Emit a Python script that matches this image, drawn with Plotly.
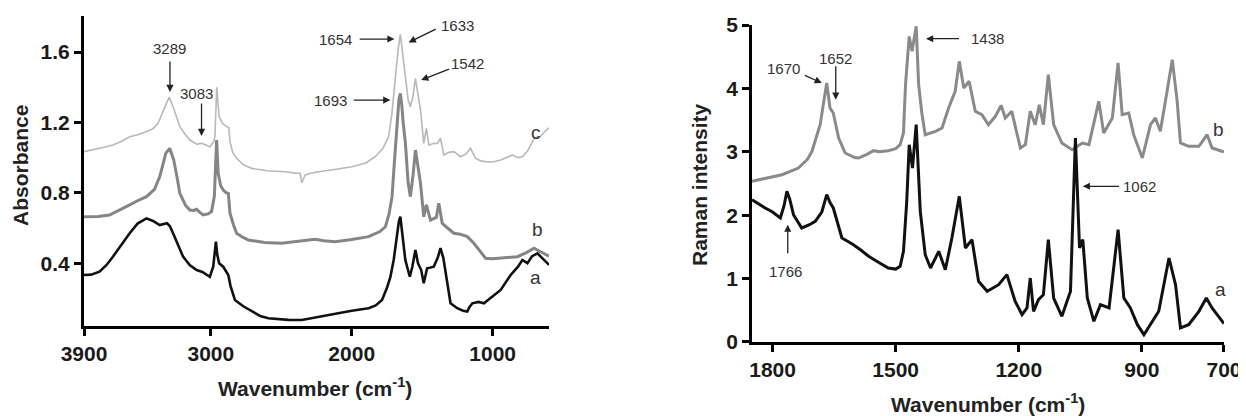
import plotly.graph_objects as go

# ---------------- FTIR (left panel) ----------------
ftir_wn_c = [3900, 3790, 3750, 3695, 3640, 3576, 3520, 3457, 3410, 3375, 3345, 3327, 3296, 3268, 3245, 3220,
             3180, 3149, 3101, 3066, 3030, 3007, 2980, 2971, 2958, 2950, 2941, 2917, 2895, 2872, 2864, 2845,
             2817, 2770, 2710, 2600, 2473, 2400, 2366, 2354, 2331, 2300, 2236, 2100, 1998, 1900, 1833, 1780,
             1738, 1715, 1700, 1685, 1670, 1655, 1640, 1619, 1600, 1584, 1565, 1548, 1530, 1512, 1489, 1470,
             1453, 1420, 1393, 1370, 1346, 1310, 1275, 1228, 1190, 1157, 1121, 1080, 1050, 1000, 943, 900,
             860, 820, 789, 750, 706, 682, 660, 640, 611, 600]
ftir_abs_c = [1.034, 1.05, 1.06, 1.072, 1.09, 1.119, 1.13, 1.147, 1.165, 1.195, 1.25, 1.289, 1.343, 1.289, 1.23, 1.176,
              1.13, 1.10, 1.076, 1.081, 1.07, 1.062, 1.09, 1.119, 1.40, 1.30, 1.232, 1.195, 1.18, 1.17, 1.09, 1.03,
              0.996, 0.96, 0.939, 0.925, 0.92, 0.912, 0.911, 0.857, 0.901, 0.91, 0.92, 0.935, 0.948, 0.97, 1.005, 1.05,
              1.12, 1.25, 1.38, 1.52, 1.62, 1.70, 1.60, 1.46, 1.33, 1.289, 1.35, 1.45, 1.35, 1.27, 1.081, 1.166,
              1.072, 1.08, 1.081, 1.11, 1.015, 1.03, 1.034, 1.005, 1.02, 1.053, 0.996, 0.98, 0.977, 0.975, 0.986, 1.0,
              1.015, 1.0, 1.005, 1.04, 1.11, 1.119, 1.12, 1.14, 1.166, 1.17]

ftir_wn_b = [3900, 3800, 3719, 3650, 3576, 3520, 3457, 3400, 3363, 3340, 3320, 3292, 3263, 3240, 3220, 3180,
             3149, 3120, 3101, 3080, 3054, 3020, 2995, 2975, 2959, 2948, 2930, 2912, 2890, 2876, 2864, 2840,
             2817, 2780, 2734, 2620, 2497, 2380, 2300, 2260, 2200, 2117, 2000, 1880, 1800, 1761, 1735, 1714,
             1695, 1680, 1665, 1655, 1645, 1635, 1619, 1600, 1584, 1565, 1548, 1530, 1512, 1489, 1470, 1441,
             1400, 1382, 1358, 1320, 1275, 1230, 1180, 1133, 1090, 1050, 1000, 943, 880, 824, 760, 706,
             660, 611, 600]
ftir_abs_b = [0.664, 0.665, 0.674, 0.70, 0.731, 0.755, 0.778, 0.82, 0.891, 0.96, 1.024, 1.053, 0.986, 0.89, 0.797, 0.73,
              0.702, 0.70, 0.706, 0.69, 0.674, 0.68, 0.693, 0.78, 1.10, 0.911, 0.84, 0.816, 0.80, 0.797, 0.684, 0.62,
              0.57, 0.55, 0.532, 0.518, 0.513, 0.525, 0.532, 0.536, 0.528, 0.522, 0.535, 0.551, 0.58, 0.607, 0.68, 0.778,
              1.0, 1.2, 1.33, 1.365, 1.30, 1.20, 1.081, 0.86, 0.778, 0.90, 1.043, 0.95, 0.854, 0.664, 0.731, 0.645,
              0.66, 0.74, 0.627, 0.60, 0.57, 0.565, 0.551, 0.513, 0.47, 0.428, 0.425, 0.428, 0.435, 0.437, 0.46, 0.485,
              0.465, 0.447, 0.44]

ftir_wn_a = [3900, 3850, 3790, 3740, 3695, 3640, 3576, 3520, 3457, 3410, 3363, 3311, 3290, 3268, 3230, 3197,
             3150, 3101, 3060, 3007, 2983, 2964, 2955, 2941, 2912, 2895, 2876, 2860, 2841, 2829, 2770, 2710,
             2650, 2592, 2450, 2354, 2300, 2200, 2117, 2000, 1880, 1830, 1785, 1750, 1726, 1702, 1680, 1665,
             1655, 1640, 1620, 1607, 1588, 1570, 1548, 1530, 1507, 1489, 1465, 1440, 1418, 1390, 1370, 1350,
             1334, 1299, 1251, 1210, 1180, 1165, 1144, 1100, 1062, 1000, 943, 872, 820, 789, 753, 720,
             682, 650, 611, 600]
ftir_abs_a = [0.333, 0.335, 0.352, 0.39, 0.437, 0.50, 0.57, 0.625, 0.655, 0.64, 0.617, 0.627, 0.61, 0.57, 0.50, 0.437,
              0.39, 0.361, 0.35, 0.323, 0.38, 0.522, 0.45, 0.40, 0.38, 0.36, 0.333, 0.27, 0.229, 0.191, 0.155, 0.125,
              0.10, 0.087, 0.078, 0.077, 0.085, 0.10, 0.115, 0.13, 0.144, 0.16, 0.191, 0.26, 0.32, 0.42, 0.55, 0.64,
              0.664, 0.55, 0.42, 0.38, 0.323, 0.38, 0.475, 0.40, 0.361, 0.286, 0.371, 0.375, 0.38, 0.43, 0.485, 0.43,
              0.343, 0.172, 0.144, 0.13, 0.125, 0.15, 0.172, 0.18, 0.172, 0.21, 0.248, 0.333, 0.38, 0.418, 0.40, 0.44,
              0.456, 0.43, 0.40, 0.39]

# ---------------- Raman (right panel) ----------------
raman_wn_b = [1850, 1800, 1777, 1737, 1715, 1704, 1690, 1684, 1675, 1668, 1660, 1652, 1639, 1623, 1600, 1591,
              1570, 1554, 1540, 1518, 1500, 1489, 1481, 1476, 1467, 1460, 1450, 1444, 1436, 1428, 1403, 1387,
              1371, 1355, 1345, 1334, 1321, 1306, 1290, 1274, 1257, 1243, 1233, 1217, 1205, 1196, 1184, 1172,
              1160, 1150, 1140, 1128, 1115, 1095, 1070, 1045, 1029, 1005, 993, 972, 958, 948, 932, 920,
              899, 879, 867, 855, 836, 826, 814, 806, 786, 761, 741, 729, 705, 700]
raman_int_b = [2.535, 2.60, 2.639, 2.744, 2.88, 3.008, 3.28, 3.428, 3.80, 4.085, 3.69, 3.612, 3.218, 2.981, 2.91, 2.902,
               2.96, 3.018, 3.00, 3.018, 3.05, 3.112, 3.3, 4.058, 4.82, 4.585, 4.98, 4.058, 3.6, 3.27, 3.323, 3.375,
               3.69, 3.954, 4.427, 4.006, 4.112, 3.639, 3.585, 3.428, 3.56, 3.733, 3.533, 3.639, 3.3, 3.06, 3.112, 3.639,
               3.428, 3.743, 3.428, 4.216, 3.428, 3.139, 3.034, 3.139, 3.112, 3.796, 3.297, 3.533, 4.401, 3.585, 3.612, 3.27,
               2.902, 3.428, 3.533, 3.323, 4.058, 4.453, 3.796, 3.139, 3.087, 3.087, 3.27, 3.06, 3.008, 3.0]

raman_wn_a = [1850, 1835, 1818, 1800, 1781, 1772, 1765, 1758, 1749, 1729, 1710, 1696, 1680, 1668, 1660, 1652,
              1640, 1631, 1615, 1603, 1585, 1566, 1540, 1518, 1500, 1489, 1481, 1473, 1467, 1459, 1450, 1440,
              1428, 1415, 1395, 1379, 1363, 1345, 1330, 1314, 1298, 1277, 1249, 1229, 1209, 1192, 1180, 1172,
              1164, 1152, 1140, 1128, 1115, 1095, 1074, 1062, 1052, 1044, 1033, 1017, 1001, 980, 958, 944,
              928, 911, 895, 875, 859, 834, 818, 806, 786, 761, 743, 729, 705, 700]
raman_int_a = [2.245, 2.18, 2.114, 2.05, 1.956, 2.15, 2.377, 2.25, 2.008, 1.798, 1.85, 1.904, 2.05, 2.324, 2.2, 2.114,
               1.85, 1.64, 1.58, 1.535, 1.45, 1.352, 1.25, 1.167, 1.15, 1.194, 1.43, 2.219, 3.112, 2.744, 3.428, 2.06,
               1.377, 1.167, 1.43, 1.14, 1.64, 2.298, 1.483, 1.614, 0.957, 0.8, 0.904, 1.062, 0.642, 0.431, 0.536, 1.009,
               0.484, 0.667, 0.746, 1.614, 0.694, 0.405, 0.8, 3.218, 1.483, 1.614, 0.694, 0.326, 0.588, 0.536, 1.772, 0.694,
               0.536, 0.273, 0.115, 0.326, 0.484, 1.325, 0.904, 0.221, 0.273, 0.484, 0.694, 0.536, 0.326, 0.29]

ftir_xticks = [3900, 3000, 2000, 1000]
ftir_yticks = [0.4, 0.8, 1.2, 1.6]
ftir_yticklabels = ["0.4", "0.8", "1.2", "1.6"]
raman_xticks = [1800, 1500, 1200, 900, 700]
raman_yticks = [0, 1, 2, 3, 4, 5]

FONT = "Arial, Liberation Sans, sans-serif"

fig = go.Figure()
fig.add_trace(go.Scatter(x=ftir_wn_c, y=ftir_abs_c, mode="lines", line=dict(color="#b8b8b8", width=1.6),
                         xaxis="x", yaxis="y", hoverinfo="skip"))
fig.add_trace(go.Scatter(x=ftir_wn_b, y=ftir_abs_b, mode="lines", line=dict(color="#858585", width=3),
                         xaxis="x", yaxis="y", hoverinfo="skip"))
fig.add_trace(go.Scatter(x=ftir_wn_a, y=ftir_abs_a, mode="lines", line=dict(color="#111111", width=2.6),
                         xaxis="x", yaxis="y", hoverinfo="skip"))
fig.add_trace(go.Scatter(x=raman_wn_b, y=raman_int_b, mode="lines", line=dict(color="#8a8a8a", width=3),
                         xaxis="x2", yaxis="y2", hoverinfo="skip"))
fig.add_trace(go.Scatter(x=raman_wn_a, y=raman_int_a, mode="lines", line=dict(color="#111111", width=3),
                         xaxis="x2", yaxis="y2", hoverinfo="skip"))

axis_common = dict(showline=True, linewidth=3, linecolor="black", ticks="outside", ticklen=7, tickwidth=2.5,
                   tickcolor="black", showgrid=False, zeroline=False, mirror=False, automargin=False,
                   tickfont=dict(family=FONT, size=21, color="#1a1a1a", weight="bold"))

# the page body adds an 8px offset, so the figure is 1238x408
fig.update_layout(
    width=1238, height=408, margin=dict(l=0, r=0, t=0, b=0, pad=0, autoexpand=False),
    paper_bgcolor="white", plot_bgcolor="white", showlegend=False,
    xaxis=dict(domain=[0.0614, 0.4370], range=[3900, 600], tickvals=ftir_xticks, anchor="y", **axis_common),
    yaxis=dict(domain=[0.2206, 0.9804], range=[0.043, 1.805], tickvals=ftir_yticks, ticktext=ftir_yticklabels,
               anchor="x", **axis_common),
    xaxis2=dict(domain=[0.6010, 0.9822], range=[1850, 700], tickvals=raman_xticks, anchor="y2", **axis_common),
    yaxis2=dict(domain=[0.1814, 0.9583], range=[0, 5], tickvals=raman_yticks, anchor="x2", **axis_common),
)

title_font = dict(family=FONT, size=21, color="#222222", weight="bold")

annotations = []
# axis titles
annotations.append(dict(text="Absorbance", x=0.0105, y=0.6152, xref="paper", yref="paper", textangle=-90,
                        showarrow=False, font=title_font, xanchor="center", yanchor="middle"))
annotations.append(dict(text="Wavenumber (cm<sup>-1</sup>)", x=0.2480, y=0.0711, xref="paper", yref="paper",
                        showarrow=False, font=title_font, xanchor="center", yanchor="middle"))
annotations.append(dict(text="Raman intensity", x=0.5590, y=0.5662, xref="paper", yref="paper", textangle=-90,
                        showarrow=False, font=title_font, xanchor="center", yanchor="middle"))
annotations.append(dict(text="Wavenumber (cm<sup>-1</sup>)", x=0.7916, y=0.0319, xref="paper", yref="paper",
                        showarrow=False, font=title_font, xanchor="center", yanchor="middle"))

# peak labels and curve letters: (text, x, y, xref, yref)
labels = [
    ("3289", 3290, 1.623, "x", "y"), ("3083", 3101, 1.367, "x", "y"),
    ("1654", 2117, 1.674, "x", "y"), ("1693", 2153, 1.327, "x", "y"),
    ("1633", 1250, 1.753, "x", "y"), ("1542", 1180, 1.536, "x", "y"),
    ("a", 694, 0.316, "x", "y"), ("b", 680, 0.589, "x", "y"), ("c", 694, 1.14, "x", "y"),
    ("1670", 1773, 4.32, "x2", "y2"), ("1652", 1646, 4.47, "x2", "y2"),
    ("1766", 1768, 1.115, "x2", "y2"), ("1438", 1277, 4.784, "x2", "y2"),
    ("1062", 907, 2.456, "x2", "y2"), ("b", 713, 3.35, "x2", "y2"), ("a", 709, 0.825, "x2", "y2"),
]
for t, x, y, xr, yr in labels:
    size = 19 if t in ("a", "b", "c") else 15
    annotations.append(dict(text=t, x=x, y=y, xref=xr, yref=yr, showarrow=False,
                            font=dict(family=FONT, size=size, color="#333333"),
                            xanchor="center", yanchor="middle"))

# arrows: head (x, y), tail (ax, ay)
arrows = [
    (3290, 1.373, 3290, 1.555, "x", "y"),
    (3066, 1.123, 3066, 1.316, "x", "y"),
    (1697, 1.674, 1954, 1.674, "x", "y"),
    (1726, 1.327, 1996, 1.327, "x", "y"),
    (1596, 1.655, 1393, 1.735, "x", "y"),
    (1507, 1.441, 1299, 1.507, "x", "y"),
    (1680, 4.085, 1725, 4.216, "x2", "y2"),
    (1646, 3.822, 1646, 4.374, "x2", "y2"),
    (1763, 1.85, 1763, 1.377, "x2", "y2"),
    (1426, 4.784, 1342, 4.784, "x2", "y2"),
    (1044, 2.456, 952, 2.456, "x2", "y2"),
]
for x, y, ax, ay, xr, yr in arrows:
    annotations.append(dict(text="", x=x, y=y, ax=ax, ay=ay, xref=xr, yref=yr, axref=xr, ayref=yr,
                            showarrow=True, arrowhead=2, arrowsize=1.1, arrowwidth=1.3, arrowcolor="#222222"))

fig.update_layout(annotations=annotations)
fig.write_html("out.html")
